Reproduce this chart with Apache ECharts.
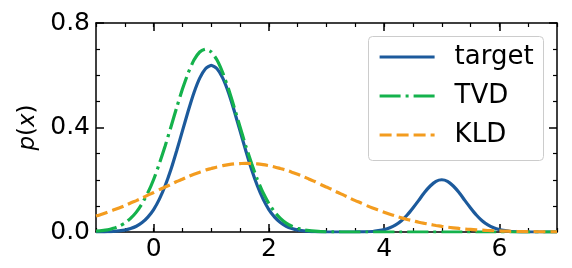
<!DOCTYPE html>
<html>
<head>
<meta charset="utf-8">
<script src="https://cdn.jsdelivr.net/npm/echarts@6/dist/echarts.min.js"></script>
<style>
html,body{margin:0;padding:0;background:#fff;}
#c{width:572px;height:268px;}
</style>
</head>
<body>
<div id="c"></div>
<script>
var xs = [-1.0,-0.9,-0.8,-0.7,-0.6,-0.5,-0.4,-0.3,-0.2,-0.1,
0.0,0.1,0.2,0.3,0.4,0.5,0.6,0.7,0.8,0.9,
1.0,1.1,1.2,1.3,1.4,1.5,1.6,1.7,1.8,1.9,
2.0,2.1,2.2,2.3,2.4,2.5,2.6,2.7,2.8,2.9,
3.0,3.1,3.2,3.3,3.4,3.5,3.6,3.7,3.8,3.9,
4.0,4.1,4.2,4.3,4.4,4.5,4.6,4.7,4.8,4.9,
5.0,5.1,5.2,5.3,5.4,5.5,5.6,5.7,5.8,5.9,
6.0,6.1,6.2,6.3,6.4,6.5,6.6,6.7,6.8,6.9,
7.0];
var target = [0,0.0005,0.001,0.002,0.004,0.007,0.013,0.022,0.036,0.057,
0.086,0.126,0.177,0.239,0.311,0.387,0.463,0.533,0.589,0.625,
0.638,0.625,0.589,0.533,0.463,0.387,0.311,0.239,0.177,0.126,
0.086,0.057,0.036,0.022,0.013,0.007,0.004,0.002,0.001,0.0005,
0,0,0,0,0,0.0002,0.0005,0.001,0.002,0.005,
0.009,0.016,0.027,0.043,0.065,0.092,0.121,0.151,0.176,0.194,
0.2,0.194,0.176,0.151,0.121,0.092,0.065,0.043,0.027,0.016,
0.009,0.005,0.002,0.001,0.0005,0.0002,0,0,0,0,
0];
var tvd = [0.003,0.005,0.008,0.014,0.022,0.034,0.052,0.076,0.109,0.150,
0.201,0.262,0.329,0.402,0.476,0.547,0.609,0.658,0.689,0.700,
0.689,0.658,0.609,0.547,0.476,0.402,0.329,0.262,0.201,0.150,
0.109,0.076,0.052,0.034,0.022,0.014,0.008,0.005,0.003,0.0015,
0.0008,0.0004,0.0002,0,0,0,0,0,0,0,
0,0,0,0,0,0,0,0,0,0,
0,0,0,0,0,0,0,0,0,0,
0,0,0,0,0,0,0,0,0,0,
0];
var kld = [0.061,0.068,0.076,0.084,0.092,0.101,0.111,0.120,0.130,0.141,
0.151,0.162,0.172,0.182,0.193,0.202,0.212,0.221,0.229,0.237,
0.243,0.249,0.254,0.258,0.261,0.262,0.263,0.262,0.261,0.258,
0.254,0.249,0.243,0.237,0.229,0.221,0.212,0.202,0.193,0.182,
0.172,0.162,0.151,0.141,0.130,0.120,0.111,0.101,0.092,0.084,
0.076,0.068,0.061,0.054,0.048,0.043,0.0375,0.033,0.029,0.025,
0.0215,0.0185,0.016,0.0136,0.0115,0.0098,0.0082,0.0069,0.0058,0.0048,
0.0040,0.0033,0.0027,0.0022,0.0018,0.0015,0.0012,0.0009,0.0008,0.0006,
0.0005];
var seriesNames = ['target','TVD','KLD'];
var xMajorTicks = [0,2,4,6];
var yTickLabels = ['0.0','0.4','0.8'];

var FONT = 'DejaVu Sans';
var FS = 25;
var blue = '#1c5a9c', green = '#14b24c', orange = '#f39c1f';
var LW = 3.2;

function pairs(arr){ return xs.map(function(x,i){ return [x, arr[i]]; }); }

var axisLineStyle = {color:'#000', width:1.5};
function xAx(pos, major, labels){
  var a = {
    type:'value', min:-1, max:7, position:pos, gridIndex:0,
    axisLine:{show:major, onZero:false, lineStyle:axisLineStyle},
    splitLine:{show:false},
    axisLabel:{show:false}
  };
  if (major){
    a.axisTick = {show:true, inside:true, length:8, customValues:xMajorTicks, lineStyle:{color:'#000', width:1.5}};
    if (labels){
      a.axisLabel = {show:true, customValues:xMajorTicks, fontFamily:FONT, fontSize:FS, color:'#000', margin:5};
    }
  } else {
    a.interval = 0.5;
    a.axisTick = {show:true, inside:true, length:4, lineStyle:{color:'#000', width:1.2}};
  }
  return a;
}
function yAx(pos, labels){
  return {
    type:'value', min:0, max:0.8, interval:0.4, position:pos,
    axisLine:{show:true, onZero:false, lineStyle:axisLineStyle},
    splitLine:{show:false},
    axisTick:{show:true, inside:true, length:8, lineStyle:{color:'#000', width:1.5}},
    minorTick:{show:true, splitNumber:4, length:4, lineStyle:{color:'#000', width:1.2}},
    axisLabel:{show:labels, fontFamily:FONT, fontSize:FS, color:'#000', margin:6,
      formatter:function(v){ var i = Math.round(v/0.4); return yTickLabels[i]; }},
    name: labels ? '{i|p}({i|x})' : '',
    nameLocation:'middle', nameGap:56, nameRotate:90,
    nameTextStyle:{fontFamily:FONT, fontSize:FS-2, color:'#000',
      rich:{i:{fontFamily:FONT, fontSize:FS-2, fontStyle:'italic', color:'#000'}}}
  };
}

var chart = echarts.init(document.getElementById('c'), null, {renderer:'canvas'});
chart.setOption({
  animation:false,
  backgroundColor:'#fff',
  grid:{left:96, top:23, right:15, bottom:36},
  xAxis:[xAx('bottom',true,true), xAx('bottom',false,false), xAx('top',true,false), xAx('top',false,false)],
  yAxis:[yAx('left',true), yAx('right',false)],
  graphic:[{type:'rect', shape:{x:368.5, y:36.5, width:175, height:124, r:4}, style:{fill:'rgba(255,255,255,0.8)', stroke:'#cccccc', lineWidth:1}, z:10}],
  legend:{
    orient:'vertical', left:378, top:44, padding:0, itemWidth:55, itemHeight:14, itemGap:13, z:20,
    itemStyle:{opacity:0},
    lineStyle:{width:LW},
    textStyle:{fontFamily:FONT, fontSize:26, color:'#000', padding:[0,0,0,15], lineHeight:26},
    data:seriesNames
  },
  series:[
    {name:seriesNames[0], type:'line', data:pairs(target), showSymbol:false, symbol:'none', smooth:0.2,
      lineStyle:{color:blue, width:LW}, itemStyle:{color:blue}, z:3},
    {name:seriesNames[1], type:'line', data:pairs(tvd), showSymbol:false, symbol:'none', smooth:0.2,
      lineStyle:{color:green, width:LW, type:[21,5,3,5]}, itemStyle:{color:green}, z:4},
    {name:seriesNames[2], type:'line', data:pairs(kld), showSymbol:false, symbol:'none', smooth:0.2,
      lineStyle:{color:orange, width:LW, type:[12,5]}, itemStyle:{color:orange}, z:5}
  ]
});
</script>
</body>
</html>
